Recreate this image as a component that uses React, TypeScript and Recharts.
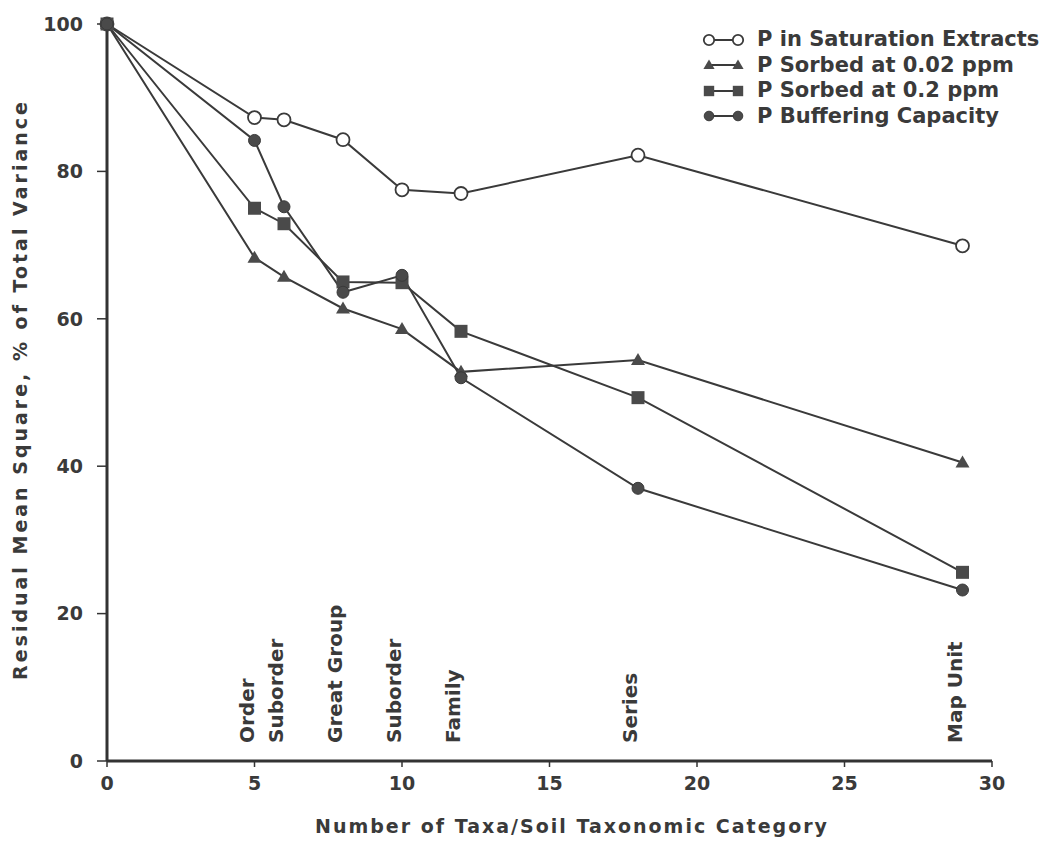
import React from 'react';
import { LineChart, Line, XAxis, YAxis, ReferenceLine, Legend } from 'recharts';

// number of taxa at each level of the soil taxonomy
const taxaCount = [0, 5, 6, 8, 10, 12, 18, 29];

const satExtracts = [100, 87.3, 87.0, 84.3, 77.5, 77.0, 82.2, 69.9];
const sorbed002 = [100, 68.3, 65.7, 61.4, 58.6, 52.8, 54.4, 40.5];
const sorbed02 = [100, 75.0, 72.9, 65.0, 64.9, 58.3, 49.3, 25.6];
const buffering = [100, 84.2, 75.2, 63.6, 65.9, 52.0, 37.0, 23.2];

const categoryX = [5, 6, 8, 10, 12, 18, 29];
const categoryNames = ['Order', 'Suborder', 'Great Group', 'Suborder', 'Family', 'Series', 'Map Unit'];

const xTicks = [0, 5, 10, 15, 20, 25, 30];
const yTicks = [0, 20, 40, 60, 80, 100];

const data = taxaCount.map((x, i) => ({
  x,
  sat: satExtracts[i],
  s002: sorbed002[i],
  s02: sorbed02[i],
  buf: buffering[i],
}));

const INK = '#3a3a3a';
const MARK = '#4a4a4a';
const FONT = '"DejaVu Sans", sans-serif';

const openCircle = (p: any, k = 1) => (
  <circle key={`o-${p.index}`} cx={p.cx} cy={p.cy} r={6.5 * k} fill="#fff" stroke={INK} strokeWidth={1.8} />
);
const filledCircle = (p: any, k = 1) => (
  <circle key={`c-${p.index}`} cx={p.cx} cy={p.cy} r={6 * k} fill={MARK} stroke={INK} strokeWidth={1} />
);
const square = (p: any, k = 1) => (
  <rect key={`s-${p.index}`} x={p.cx - 6.5 * k} y={p.cy - 6.5 * k} width={13 * k} height={13 * k} fill={MARK} />
);
const triangle = (p: any, k = 1) => (
  <polygon
    key={`t-${p.index}`}
    points={`${p.cx},${p.cy - 7 * k} ${p.cx - 7 * k},${p.cy + 5 * k} ${p.cx + 7 * k},${p.cy + 5 * k}`}
    fill={MARK}
  />
);

const series = [
  { key: 'sat', name: 'P in Saturation Extracts', dot: openCircle },
  { key: 's002', name: 'P Sorbed at 0.02 ppm', dot: triangle },
  { key: 's02', name: 'P Sorbed at 0.2 ppm', dot: square },
  { key: 'buf', name: 'P Buffering Capacity', dot: filledCircle },
];

const LegendBox = () => (
  <div style={{ fontFamily: FONT, fontWeight: 'bold', fontSize: 21, color: INK, lineHeight: '25.5px' }}>
    {series.map((s) => (
      <div key={s.key} style={{ display: 'flex', alignItems: 'center', height: 25.5 }}>
        <svg width={44} height={20} style={{ marginRight: 11 }}>
          <line x1={7} y1={10} x2={36} y2={10} stroke={INK} strokeWidth={2} />
          {s.dot({ cx: 7, cy: 10, index: 0 }, 0.8)}
          {s.dot({ cx: 36, cy: 10, index: 1 }, 0.8)}
        </svg>
        <span>{s.name}</span>
      </div>
    ))}
  </div>
);

const CategoryLabel = ({ viewBox, text }: any) => {
  const cx = viewBox.x - 8;
  const cy = viewBox.y + viewBox.height - 18;
  return (
    <text
      x={cx}
      y={cy}
      dy="0.36em"
      transform={`rotate(-90 ${cx} ${cy})`}
      textAnchor="start"
      fontFamily={FONT}
      fontWeight="bold"
      fontSize={20}
      fill={INK}
    >
      {text}
    </text>
  );
};

const YTitle = ({ viewBox }: any) => {
  const cy = viewBox.y + viewBox.height / 2 - 3;
  return (
    <text
      x={20}
      y={cy}
      dy="0.36em"
      transform={`rotate(-90 20 ${cy})`}
      textAnchor="middle"
      fontFamily={FONT}
      fontWeight="bold"
      fontSize={19}
      letterSpacing={3}
      fill={INK}
    >
      Residual Mean Square, % of Total Variance
    </text>
  );
};

const XTitle = () => (
  <text
    x={572}
    y={833}
    textAnchor="middle"
    fontFamily={FONT}
    fontWeight="bold"
    fontSize={19}
    letterSpacing={2}
    fill={INK}
  >
    Number of Taxa/Soil Taxonomic Category
  </text>
);

const tickStyle = { fontFamily: FONT, fontWeight: 'bold' as const, fontSize: 19, fill: INK };

export default function App() {
  return (
    <div style={{ position: 'absolute', left: 0, top: 0, width: 1050, height: 843, background: '#fff' }}>
      <LineChart width={1050} height={843} data={data} margin={{ top: 24, right: 58, bottom: 0, left: 47 }}>
        <XAxis
          dataKey="x"
          type="number"
          domain={[0, 30]}
          ticks={xTicks}
          height={82}
          tick={tickStyle}
          tickSize={6}
          tickMargin={10}
          axisLine={{ stroke: '#333', strokeWidth: 3 }}
          tickLine={{ stroke: '#333', strokeWidth: 1.5 }}
          label={{ content: XTitle }}
        />
        <YAxis
          type="number"
          domain={[0, 100]}
          ticks={yTicks}
          width={60}
          tick={tickStyle}
          tickSize={10}
          tickMargin={14}
          axisLine={{ stroke: '#333', strokeWidth: 3 }}
          tickLine={{ stroke: '#333', strokeWidth: 1.5 }}
          label={{ content: YTitle }}
        />
        {categoryX.map((v, i) => (
          <ReferenceLine
            key={`cat-${i}`}
            x={v}
            stroke="none"
            label={{ content: (props: any) => <CategoryLabel {...props} text={categoryNames[i]} /> }}
          />
        ))}
        {series.map((s) => (
          <Line
            key={s.key}
            dataKey={s.key}
            name={s.name}
            stroke={INK}
            strokeWidth={2}
            dot={(p: any) => s.dot(p)}
            activeDot={false}
            isAnimationActive={false}
          />
        ))}
        <Legend
          layout="vertical"
          align="center"
          verticalAlign="middle"
          wrapperStyle={{ left: 702, top: 27, width: 348, height: 110 }}
          content={LegendBox}
        />
      </LineChart>
    </div>
  );
}
